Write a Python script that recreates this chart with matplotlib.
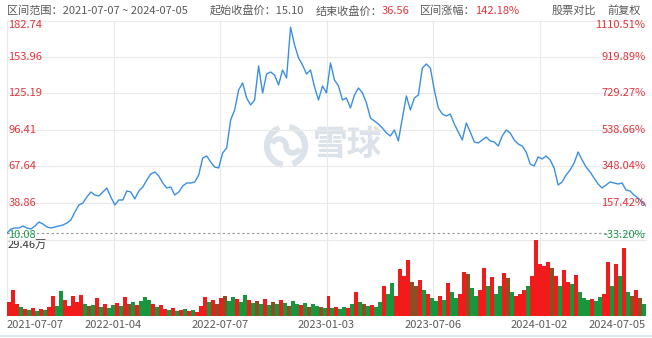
import matplotlib
matplotlib.use("Agg")
import matplotlib.pyplot as plt
from matplotlib.patches import Arc
import numpy as np

plt.rcParams['font.family'] = ['Noto Sans CJK SC', 'DejaVu Sans']

# ---------------- data ----------------
header_range = "2021-07-07 ~ 2024-07-05"
start_close = "15.10"
end_close = "36.56"
change_pct = "142.18%"
date_labels = ["2021-07-07", "2022-01-04", "2022-07-07", "2023-01-03",
               "2023-07-06", "2024-01-02", "2024-07-05"]
price_ticks = [10.08, 38.86, 67.64, 96.41, 125.19, 153.96, 182.74]
pct_labels = ["-33.20%", "157.42%", "348.04%", "538.66%", "729.27%", "919.89%", "1110.51%"]
base_price = 15.10
vol_max = 29.46
vol_max_label = "29.46万"

# close price (forward adjusted), sampled roughly weekly
prices = [15.10, 18.36, 19.15, 19.15, 20.72, 19.15, 18.36, 20.72, 23.88, 22.30,
          19.94, 19.15, 19.94, 20.72, 21.51, 23.09, 25.46, 31.76, 37.28, 38.86,
          43.59, 47.53, 45.17, 44.38, 47.53, 50.69, 43.59, 37.28, 41.23, 41.23,
          48.32, 47.53, 42.01, 48.32, 51.48, 57.00, 61.73, 63.30, 60.15, 54.63,
          50.69, 51.48, 45.17, 47.53, 52.26, 54.63, 54.63, 55.42, 60.94, 74.34,
          75.92, 71.19, 67.25, 66.46, 78.29, 82.23, 104.31, 112.19, 127.96, 133.48,
          121.65, 116.13, 120.08, 146.88, 125.60, 140.58, 142.15, 139.79, 131.90, 143.73,
          137.42, 177.50, 163.44, 153.19, 147.67, 140.58, 143.73, 130.33, 120.08, 131.11,
          125.60, 149.25, 135.85, 131.11, 120.08, 121.65, 113.77, 124.02, 129.54, 125.60,
          117.71, 105.88, 103.52, 101.15, 98.00, 94.06, 91.69, 96.42, 87.75, 105.88,
          123.23, 112.19, 121.65, 124.02, 145.31, 148.46, 145.31, 127.96, 113.77, 109.04,
          107.46, 109.04, 101.15, 94.84, 88.54, 101.94, 94.84, 86.96, 86.17, 88.54,
          90.90, 87.75, 86.96, 83.80, 91.69, 96.42, 94.06, 88.54, 85.38, 83.80,
          79.07, 69.61, 68.03, 75.13, 73.55, 75.92, 72.77, 66.46, 53.05, 55.42,
          60.94, 64.88, 70.40, 79.07, 72.77, 67.25, 63.30, 58.57, 53.84, 50.69,
          53.05, 55.42, 54.63, 53.84, 54.63, 49.11, 48.32, 45.17, 42.80, 39.65,
          36.56]

# volume (万), one bar per price step
volumes = [5.43, 10.08, 4.65, 3.49, 2.71, 2.33, 3.10, 1.94, 2.71, 2.33,
           3.49, 7.75, 3.88, 9.69, 6.20, 3.88, 7.75, 5.43, 8.14, 4.65,
           3.88, 4.26, 6.98, 3.49, 4.65, 3.10, 4.26, 5.04, 3.88, 7.36,
           4.65, 5.43, 4.26, 5.81, 7.36, 6.20, 4.65, 3.49, 4.26, 2.71,
           2.33, 3.10, 1.94, 2.33, 2.71, 1.94, 2.33, 1.55, 3.88, 7.36,
           5.43, 6.20, 4.65, 6.98, 7.75, 5.81, 7.36, 6.59, 5.43, 8.14,
           6.20, 5.04, 5.81, 4.65, 6.59, 4.26, 5.43, 4.65, 6.20, 5.04,
           3.88, 5.81, 4.65, 4.26, 5.04, 3.49, 4.65, 3.88, 3.49, 3.10,
           7.75, 3.10, 3.49, 2.71, 3.49, 3.10, 4.65, 9.30, 5.43, 4.65,
           3.88, 4.26, 3.49, 5.43, 11.63, 8.53, 12.79, 7.75, 18.22, 15.50,
           21.71, 13.18, 11.63, 13.95, 10.08, 8.53, 6.98, 5.81, 7.75, 6.20,
           12.79, 9.30, 6.98, 8.53, 17.05, 16.28, 10.85, 7.75, 10.08, 18.60,
           11.63, 15.12, 8.53, 11.63, 16.67, 14.73, 9.30, 7.75, 8.53, 10.08,
           11.63, 15.50, 29.46, 20.16, 19.38, 20.93, 18.60, 15.50, 11.63, 17.83,
           13.18, 12.40, 15.89, 9.30, 6.98, 6.20, 6.59, 5.81, 7.36, 8.53,
           20.93, 11.63, 20.16, 15.50, 26.36, 9.30, 7.75, 10.08, 6.98, 4.65]

# bar colour class per volume bar: 1 = up (red), 0 = down (green), 2 = mixed week
vol_dir = [1, 1, 1, 0, 1, 0, 1, 0, 1, 0,
           1, 1, 0, 0, 1, 1, 1, 1, 1, 0,
           2, 0, 1, 0, 1, 0, 0, 1, 0, 1,
           2, 0, 1, 0, 0, 0, 1, 0, 1, 1,
           0, 1, 0, 1, 0, 1, 0, 1, 1, 1,
           0, 1, 2, 1, 2, 0, 0, 1, 0, 0,
           1, 0, 2, 0, 1, 0, 2, 0, 1, 0,
           2, 0, 0, 1, 0, 2, 0, 0, 2, 0,
           1, 0, 1, 0, 0, 1, 0, 1, 0, 2,
           0, 1, 0, 0, 1, 0, 0, 1, 1, 1,
           1, 2, 2, 1, 0, 1, 0, 0, 1, 0,
           1, 0, 0, 1, 1, 2, 0, 0, 1, 1,
           0, 1, 0, 0, 1, 2, 0, 1, 1, 1,
           0, 1, 1, 1, 1, 1, 2, 1, 0, 1,
           1, 0, 1, 0, 0, 0, 1, 0, 0, 1,
           1, 0, 1, 0, 1, 0, 2, 1, 2, 0]

# ---------------- style ----------------
RED_TXT = '#e3343c'
GREEN_TXT = '#1f9a4c'
GRAY_TXT = '#5a5a5a'
LINE = '#3b8fe3'
GRID = '#e9e9e9'
VOL_COLORS = {1: '#f21b1b', 0: '#17963c', 2: '#8c4f24'}
WM = '#dce2e9'

W, H = 652, 338
fig = plt.figure(figsize=(W / 100, H / 100), dpi=100)
fig.patch.set_facecolor('white')


def fr(x0, y0, x1, y1):
    return [x0 / W, 1 - y1 / H, (x1 - x0) / W, (y1 - y0) / H]


bg = fig.add_axes([0, 0, 1, 1], zorder=0)
bg.set_xlim(0, W)
bg.set_ylim(H, 0)
bg.axis('off')

ax = fig.add_axes(fr(7, 20.5, 646, 239.5), zorder=2)
vax = fig.add_axes(fr(7, 240, 646, 316), zorder=2)
for a in (ax, vax):
    a.patch.set_visible(False)
    for s in a.spines.values():
        s.set_visible(False)
    a.set_xticks([])
    a.set_yticks([])

n = len(prices)
xs = np.arange(n)
ax.set_xlim(0, n - 1)
vax.set_xlim(0, n - 1)
ax.set_ylim(price_ticks[0], price_ticks[-1])
vax.set_ylim(0, vol_max)

# grid
xgrid = [(n - 1) * i / 6 for i in range(7)]
for p in price_ticks:
    ax.axhline(p, color=GRID, lw=0.8, zorder=0, clip_on=False)
for xg in xgrid[:-1]:
    ax.axvline(xg, color=GRID, lw=0.8, zorder=0, clip_on=False)
    vax.axvline(xg, color=GRID, lw=0.8, zorder=0, clip_on=False)
vax.axhline(0, color='#eeeeee', lw=0.6, zorder=0)

# base price dashed
ax.axhline(base_price, color='#9a9a9a', lw=0.8, ls=(0, (2.2, 2.2)), zorder=1, clip_on=False)

# watermark
bg.add_patch(Arc((286, 146), 38, 38, theta1=100, theta2=250, color=WM, lw=4.5))
bg.add_patch(Arc((286, 146), 38, 38, theta1=280, theta2=70, color=WM, lw=4.5))
bg.add_patch(Arc((279, 146), 14, 14, theta1=200, theta2=20, color=WM, lw=4.0))
bg.add_patch(Arc((293, 146), 14, 14, theta1=20, theta2=200, color=WM, lw=4.0))
bg.text(348, 145, "雪球", color=WM, fontsize=25, fontweight='bold', ha='center', va='center')

# price line
ax.plot(xs, prices, color=LINE, lw=1.0, zorder=3, solid_joinstyle='round')

# volume bars
vx = xs[:-1] + 0.5
vcol = [VOL_COLORS[d] for d in vol_dir]
vax.bar(vx, volumes, width=1.0, color=vcol, linewidth=0, zorder=2)

# left price labels / right pct labels
ytr = ax.get_yaxis_transform()
m = len(price_ticks)
for i, (p, lab) in enumerate(zip(price_ticks, pct_labels)):
    if i == 0:
        va, c = 'bottom', GREEN_TXT
    elif i == m - 1:
        va, c = 'top', RED_TXT
    else:
        va, c = 'center', RED_TXT
    ax.text(0.002, p, f"{p:.2f}", transform=ytr, ha='left', va=va, color=c, fontsize=8, zorder=4)
    ax.text(0.999, p, lab, transform=ytr, ha='right', va=va, color=c, fontsize=8, zorder=4)

bg.text(8, 245, vol_max_label, color='#333333', fontsize=8, ha='left', va='center', zorder=5)

# date labels
px_grid = [7 + (646 - 7) * i / 6 for i in range(7)]
for i, (xp, lab) in enumerate(zip(px_grid, date_labels)):
    ha = 'left' if i == 0 else ('right' if i == 6 else 'center')
    bg.text(xp, 325, lab, color=GRAY_TXT, fontsize=8, ha=ha, va='center')

# header
hy = 11
bg.text(7, hy, "区间范围：" + header_range, color=GRAY_TXT, fontsize=8, ha='left', va='center')
bg.text(210, hy, "起始收盘价：" + start_close, color=GRAY_TXT, fontsize=8, ha='left', va='center')
bg.text(316, hy, "结束收盘价：", color=GRAY_TXT, fontsize=8, ha='left', va='center')
bg.text(382, hy, end_close, color=RED_TXT, fontsize=8, ha='left', va='center')
bg.text(420, hy, "区间涨幅：", color=GRAY_TXT, fontsize=8, ha='left', va='center')
bg.text(475, hy, change_pct, color=RED_TXT, fontsize=8, ha='left', va='center')
bg.text(552, hy, "股票对比", color=GRAY_TXT, fontsize=8, ha='left', va='center')
bg.text(641, hy, "前复权", color=GRAY_TXT, fontsize=8, ha='right', va='center')

bg.plot([0, W], [336, 336], color='#dfe9f5', lw=1.5)

fig.savefig("out.png", dpi=100, facecolor='white')
